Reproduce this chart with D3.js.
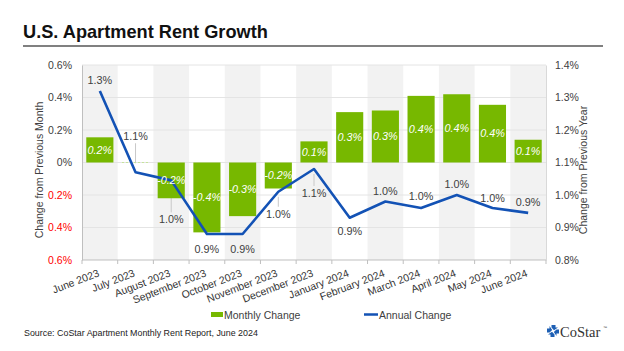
<!DOCTYPE html>
<html>
<head>
<meta charset="utf-8">
<script src="https://cdn.jsdelivr.net/npm/d3@7"></script>
<style>
  body { margin: 0; background: #fff; }
  svg { display: block; font-family: "Liberation Sans", Arial, sans-serif; }
</style>
</head>
<body>
<div id="chart"></div>
<script>
const months = ['June 2023', 'July 2023', 'August 2023', 'September 2023', 'October 2023',
  'November 2023', 'December 2023', 'January 2024', 'February 2024', 'March 2024',
  'April 2024', 'May 2024', 'June 2024'];
const monthlyChange = [0.155, 0.0, -0.22, -0.43, -0.33, -0.16, 0.13, 0.31, 0.32, 0.41, 0.42, 0.355, 0.14];
const annualChange = [1.32, 1.07, 1.045, 0.88, 0.88, 1.01, 1.08, 0.93, 0.98, 0.96, 1.00, 0.96, 0.945];
const leftTicks = [-0.6, -0.4, -0.2, 0, 0.2, 0.4, 0.6];
const rightTicks = [0.8, 0.9, 1.0, 1.1, 1.2, 1.3, 1.4];

// label offsets (px from the point), big ones get a leader line
const annualLabelOffset = [-7, -32, 43, 19, 19, 26, 28, 17, -7, -8, -7, -6, -7];

const width = 624, height = 351;
const plot = { left: 82, right: 546, top: 65, bottom: 260 };
const green = '#77b800', blue = '#1352b5', txt = '#404040';

const svg = d3.select('#chart').append('svg')
  .attr('width', width)
  .attr('height', height);

const x = d3.scaleBand().domain(months).range([plot.left, plot.right]);
const yL = d3.scaleLinear().domain([-0.6, 0.6]).range([plot.bottom, plot.top]);
const yR = d3.scaleLinear().domain([0.8, 1.4]).range([plot.bottom, plot.top]);
const cx = d => x(d) + x.bandwidth() / 2;
const fmt = v => (Math.round(v * 10) / 10).toFixed(1) + '%';

// Title
svg.append('text')
  .attr('x', 23).attr('y', 37.5)
  .attr('font-size', 18.2).attr('font-weight', 'bold').attr('fill', '#111')
  .text('U.S. Apartment Rent Growth');
svg.append('line')
  .attr('x1', 23).attr('x2', 603).attr('y1', 46).attr('y2', 46)
  .attr('stroke', '#808080').attr('stroke-width', 2);

// Alternating bands
svg.append('g').selectAll('rect')
  .data(months.filter((d, i) => i % 2 === 0))
  .enter().append('rect')
  .attr('x', d => x(d))
  .attr('y', plot.top)
  .attr('width', x.bandwidth())
  .attr('height', plot.bottom - plot.top)
  .attr('fill', '#f2f2f2');

// Grid
svg.append('g').selectAll('line')
  .data(leftTicks.slice(1))
  .enter().append('line')
  .attr('x1', plot.left).attr('x2', plot.right)
  .attr('y1', d => yL(d)).attr('y2', d => yL(d))
  .attr('stroke', '#e4e4e4').attr('stroke-width', 1);

// Left axis
const leftAxis = svg.append('g')
  .attr('transform', `translate(${plot.left},0)`)
  .call(d3.axisLeft(yL).tickValues(leftTicks).tickSize(0).tickPadding(10)
    .tickFormat(d => d === 0 ? '0%' : Math.abs(d).toFixed(1) + '%'));
leftAxis.select('.domain').attr('stroke', '#bfbfbf');
leftAxis.selectAll('text')
  .attr('font-size', 10.5)
  .attr('font-family', '"Liberation Sans", Arial, sans-serif')
  .attr('fill', d => d < 0 ? '#ff0000' : txt);

// Right axis
const rightAxis = svg.append('g')
  .attr('transform', `translate(${plot.right},0)`)
  .call(d3.axisRight(yR).tickValues(rightTicks).tickSize(0).tickPadding(9)
    .tickFormat(d => d.toFixed(1) + '%'));
rightAxis.select('.domain').attr('stroke', '#d9d9d9');
rightAxis.selectAll('text')
  .attr('font-size', 10.5)
  .attr('font-family', '"Liberation Sans", Arial, sans-serif')
  .attr('fill', txt);

// Bottom axis with ticks at band edges
svg.append('line')
  .attr('x1', plot.left).attr('x2', plot.right)
  .attr('y1', plot.bottom).attr('y2', plot.bottom)
  .attr('stroke', '#bfbfbf');
svg.append('g').selectAll('line')
  .data(months.concat(['end']))
  .enter().append('line')
  .attr('x1', (d, i) => i < months.length ? x(d) : plot.right)
  .attr('x2', (d, i) => i < months.length ? x(d) : plot.right)
  .attr('y1', plot.bottom).attr('y2', plot.bottom + 4)
  .attr('stroke', '#bfbfbf');
svg.append('g').selectAll('text')
  .data(months)
  .enter().append('text')
  .attr('transform', d => `translate(${cx(d)},${plot.bottom + 16}) rotate(-21)`)
  .attr('text-anchor', 'end')
  .attr('font-size', 10.5)
  .attr('fill', '#333')
  .text(d => d);

// Axis titles
svg.append('text')
  .attr('transform', `translate(43,170) rotate(-90)`)
  .attr('text-anchor', 'middle')
  .attr('font-size', 10.5).attr('fill', txt)
  .text('Change from Previous Month');
svg.append('text')
  .attr('transform', `translate(587,170) rotate(-90)`)
  .attr('text-anchor', 'middle')
  .attr('font-size', 10.5).attr('fill', txt)
  .text('Change from Previous Year');

const annual = months.map((m, i) => ({ m, v: annualChange[i], off: annualLabelOffset[i] }));

// Leader lines (behind bars)
svg.append('g').selectAll('line')
  .data(annual.filter(d => Math.abs(d.off) > 20))
  .enter().append('line')
  .attr('x1', d => cx(d.m)).attr('x2', d => cx(d.m))
  .attr('y1', d => d.off < 0 ? yR(d.v) + d.off + 3 : yR(d.v) + 5)
  .attr('y2', d => d.off < 0 ? yR(d.v) - 9 : yR(d.v) + d.off - 11)
  .attr('stroke', '#c8c8c8').attr('stroke-width', 1);

// Bars
const bw = x.bandwidth() * 0.76;
const monthly = months.map((m, i) => ({ m, v: monthlyChange[i] }));
svg.append('g').selectAll('rect')
  .data(monthly.filter(d => d.v !== 0))
  .enter().append('rect')
  .attr('x', d => cx(d.m) - bw / 2)
  .attr('y', d => yL(Math.max(0, d.v)))
  .attr('width', bw)
  .attr('height', d => Math.abs(yL(d.v) - yL(0)))
  .attr('fill', green);
svg.append('g').selectAll('line')
  .data(monthly.filter(d => d.v === 0))
  .enter().append('line')
  .attr('x1', d => cx(d.m) - bw / 2).attr('x2', d => cx(d.m) + bw / 2)
  .attr('y1', yL(0)).attr('y2', yL(0))
  .attr('stroke', '#c5e39a').attr('stroke-dasharray', '2,2');

// Annual line
svg.append('path')
  .datum(annual)
  .attr('fill', 'none')
  .attr('stroke', blue)
  .attr('stroke-width', 2.6)
  .attr('stroke-linejoin', 'round')
  .attr('d', d3.line().x(d => cx(d.m)).y(d => yR(d.v)));

// Bar labels
svg.append('g').selectAll('text')
  .data(monthly.filter(d => d.v !== 0))
  .enter().append('text')
  .attr('x', d => cx(d.m))
  .attr('y', d => (yL(d.v) + yL(0)) / 2)
  .attr('dy', '0.35em')
  .attr('text-anchor', 'middle')
  .attr('font-size', 10.8).attr('font-style', 'italic')
  .attr('fill', '#fff')
  .text(d => fmt(d.v));

// Annual labels
svg.append('g').selectAll('text')
  .data(annual)
  .enter().append('text')
  .attr('x', d => cx(d.m))
  .attr('y', d => yR(d.v) + d.off)
  .attr('text-anchor', 'middle')
  .attr('font-size', 10.8)
  .attr('fill', txt)
  .text(d => fmt(d.v));

// Legend
const legend = svg.append('g');
legend.append('rect').attr('x', 211).attr('y', 312).attr('width', 12).attr('height', 5).attr('fill', green);
legend.append('text').attr('x', 224).attr('y', 315).attr('dy', '0.35em')
  .attr('font-size', 10.5).attr('fill', txt).text('Monthly Change');
legend.append('line').attr('x1', 364).attr('x2', 378).attr('y1', 314.5).attr('y2', 314.5)
  .attr('stroke', blue).attr('stroke-width', 2.5);
legend.append('text').attr('x', 379).attr('y', 315).attr('dy', '0.35em')
  .attr('font-size', 10.5).attr('fill', txt).text('Annual Change');

// Source
svg.append('text')
  .attr('x', 24).attr('y', 336)
  .attr('font-size', 8.9).attr('fill', '#222')
  .text('Source: CoStar Apartment Monthly Rent Report, June 2024');

// CoStar logo
const logo = svg.append('g').attr('transform', 'translate(553,331)');
d3.range(4).forEach(i => {
  logo.append('path')
    .attr('d', 'M-1.5,-6 L2.5,-6 L2.5,-3.5 L5,-3.5 L1,-0.8 L-1.5,-3.5 Z')
    .attr('transform', `rotate(${i * 90})`)
    .attr('fill', '#1d5fb4');
});
svg.append('text')
  .attr('x', 560).attr('y', 336.5)
  .attr('font-family', '"Liberation Serif", "DejaVu Serif", serif')
  .attr('font-size', 14.5).attr('fill', '#333')
  .text('CoStar');
svg.append('text')
  .attr('x', 603).attr('y', 329)
  .attr('font-size', 4).attr('fill', '#333')
  .text('™');
</script>
</body>
</html>
